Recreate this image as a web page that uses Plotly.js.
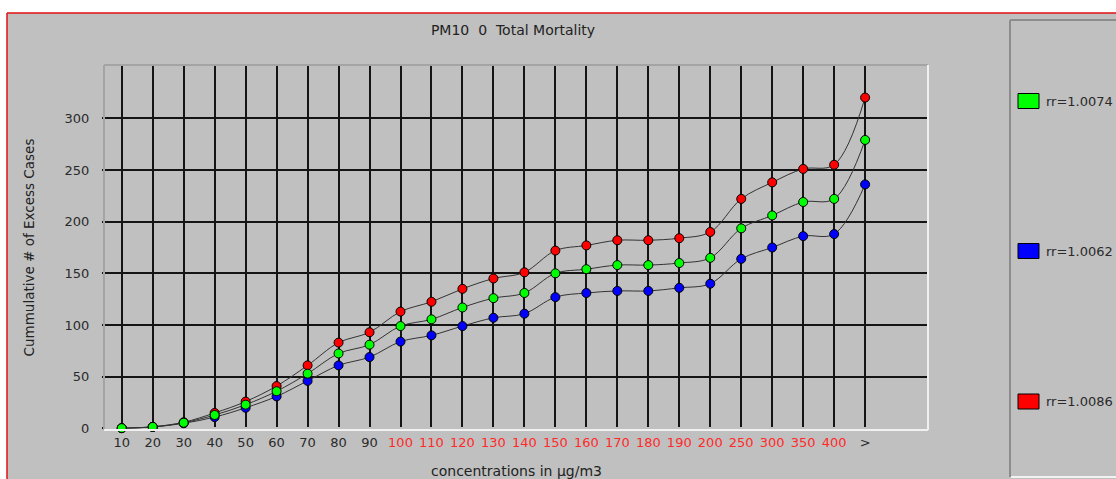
<!DOCTYPE html>
<html>
<head>
<meta charset="utf-8">
<script src="https://cdn.plot.ly/plotly-3.0.1.min.js"></script>
<style>html,body{margin:0;padding:0;background:#fff;}#chart{width:1116px;height:479px;}</style>
</head>
<body>
<div id="chart"></div>
<script>
// ---- data ----
const categories = ['10','20','30','40','50','60','70','80','90','100','110','120','130','140','150','160','170','180','190','200','250','300','350','400','>'];
const redLabelCategories = ['100','110','120','130','140','150','160','170','180','190','200','250','300','350','400'];
const seriesNames = ['rr=1.0086','rr=1.0062','rr=1.0074'];
const rr10086 = [0.3, 1.6, 6, 15, 26, 41, 61, 83, 93, 113, 122.5, 135, 145, 151, 172, 177, 182, 182, 184, 190, 222, 238, 251, 255, 320];
const rr10062 = [0.3, 1.4, 5, 11, 20, 31, 46, 61, 69, 84, 90, 99, 107, 111, 127, 131, 133, 133, 136, 140, 164, 175, 186, 188, 236];
const rr10074 = [0.3, 1.5, 5.5, 13, 23, 36, 53, 72.5, 81, 99, 105.5, 117, 126, 131, 150, 154, 158, 158, 160, 165, 193.5, 206, 219, 222, 279];
const yTicks = [0, 50, 100, 150, 200, 250, 300];
const titleText = 'PM10&nbsp;&nbsp;0&nbsp;&nbsp;Total Mortality';
const xTitle = 'concentrations in µg/m3';
const yTitle = 'Cummulative # of Excess Cases';

// ---- geometry helpers (pixel -> paper) ----
const L = 105, R = 928, T = 65, B = 430;
const fx = px => (px - L) / (R - L);
const fy = py => (B - py) / (B - T);

const colors = {red:'#ff0000', blue:'#0000ff', green:'#00ff00'};
const font = '"DejaVu Sans", Verdana, sans-serif';

const ticktext = categories.map(c => {
  const safe = c === '>' ? '&gt;' : c;
  return redLabelCategories.includes(c) ? '<span style="color:#ff2a2a">' + safe + '</span>' : safe;
});

function trace(vals, color, name) {
  return {
    type: 'scatter', mode: 'lines+markers', name: name,
    x: categories, y: vals,
    line: {shape: 'spline', smoothing: 1, color: '#333333', width: 1},
    marker: {size: 9, color: color, line: {color: '#000', width: 1}},
    cliponaxis: false, hoverinfo: 'x+y'
  };
}

const data = [
  trace(rr10062, colors.blue, seriesNames[1]),
  trace(rr10086, colors.red, seriesNames[0]),
  trace(rr10074, colors.green, seriesNames[2])
];

const shapes = [
  // white outside of red frame
  {type:'rect', xref:'paper', yref:'paper', x0:fx(-10), x1:fx(1130), y0:fy(13), y1:fy(-10), fillcolor:'#ffffff', line:{width:0}, layer:'below'},
  {type:'rect', xref:'paper', yref:'paper', x0:fx(-10), x1:fx(7), y0:fy(490), y1:fy(-10), fillcolor:'#ffffff', line:{width:0}, layer:'below'},
  // red frame
  {type:'line', xref:'paper', yref:'paper', x0:fx(7), x1:fx(1130), y0:fy(13), y1:fy(13), line:{color:'#e01010', width:1.5}},
  {type:'line', xref:'paper', yref:'paper', x0:fx(7), x1:fx(7), y0:fy(13), y1:fy(490), line:{color:'#e01010', width:1.5}},
  // legend box
  {type:'line', xref:'paper', yref:'paper', x0:fx(1010), x1:fx(1010), y0:fy(20), y1:fy(477), line:{color:'#8c8c8c', width:2}},
  {type:'line', xref:'paper', yref:'paper', x0:fx(1010), x1:fx(1130), y0:fy(20), y1:fy(20), line:{color:'#8c8c8c', width:2}},
  {type:'line', xref:'paper', yref:'paper', x0:fx(1011), x1:fx(1130), y0:fy(477), y1:fy(477), line:{color:'#f2f2f2', width:2}},
  // plot area bevel
  {type:'line', xref:'paper', yref:'paper', x0:fx(104), x1:fx(928), y0:fy(65), y1:fy(65), line:{color:'#a4a4a4', width:2}},
  {type:'line', xref:'paper', yref:'paper', x0:fx(104), x1:fx(104), y0:fy(65), y1:fy(430), line:{color:'#a4a4a4', width:2}},
  {type:'line', xref:'paper', yref:'paper', x0:fx(104), x1:fx(928), y0:fy(430), y1:fy(430), line:{color:'#f0f0f0', width:2}},
  {type:'line', xref:'paper', yref:'paper', x0:fx(928), x1:fx(928), y0:fy(65), y1:fy(430), line:{color:'#f0f0f0', width:2}}
];

const legendItems = [
  {name: seriesNames[2], color: colors.green, py: 101},
  {name: seriesNames[1], color: colors.blue, py: 251},
  {name: seriesNames[0], color: colors.red, py: 401.5}
];
const annotations = [];
legendItems.forEach(it => {
  shapes.push({type:'rect', xref:'paper', yref:'paper', x0:fx(1018), x1:fx(1039), y0:fy(it.py - 7.5), y1:fy(it.py + 7.5), fillcolor:it.color, line:{color:'#000', width:1}});
  annotations.push({xref:'paper', yref:'paper', x:fx(1044), y:fy(it.py), xanchor:'left', yanchor:'middle', showarrow:false, text:it.name, font:{family:font, size:13, color:'#2a2a2a'}});
});

const layout = {
  width: 1116, height: 479,
  margin: {l: L, r: 1116 - R, t: T, b: 479 - B, pad: 0},
  paper_bgcolor: '#c0c0c0', plot_bgcolor: '#c0c0c0',
  showlegend: false,
  font: {family: font, size: 13, color: '#2a2a2a'},
  title: {text: titleText, x: fx(513), xref: 'paper', xanchor: 'center', y: 1 - 30/479, yanchor: 'middle', font: {family: font, size: 14, color: '#222'}},
  xaxis: {
    type: 'category', range: [-0.54, 26.03], fixedrange: true,
    tickmode: 'array', tickvals: categories, ticktext: ticktext,
    showgrid: true, gridcolor: '#141414', gridwidth: 2,
    ticks: '', showline: false, zeroline: false, ticklabelstandoff: 3,
    tickfont: {family: font, size: 13, color: '#2a2a2a'},
    title: {text: xTitle, standoff: 17, font: {family: font, size: 14, color: '#222'}}
  },
  yaxis: {
    range: [-1.5, 351.5], fixedrange: true,
    tickmode: 'array', tickvals: yTicks,
    showgrid: true, gridcolor: '#141414', gridwidth: 2,
    zeroline: true, zerolinecolor: '#c0c0c0', zerolinewidth: 2,
    ticks: 'outside', ticklen: 2, tickwidth: 2, tickcolor: '#141414',
    ticklabelstandoff: 10, showline: false,
    tickfont: {family: font, size: 13, color: '#2a2a2a'},
    title: {text: yTitle, standoff: 26, font: {family: font, size: 13.5, color: '#222'}}
  },
  shapes: shapes,
  annotations: annotations
};

Plotly.newPlot('chart', data, layout, {displayModeBar: false, staticPlot: true});
</script>
</body>
</html>
